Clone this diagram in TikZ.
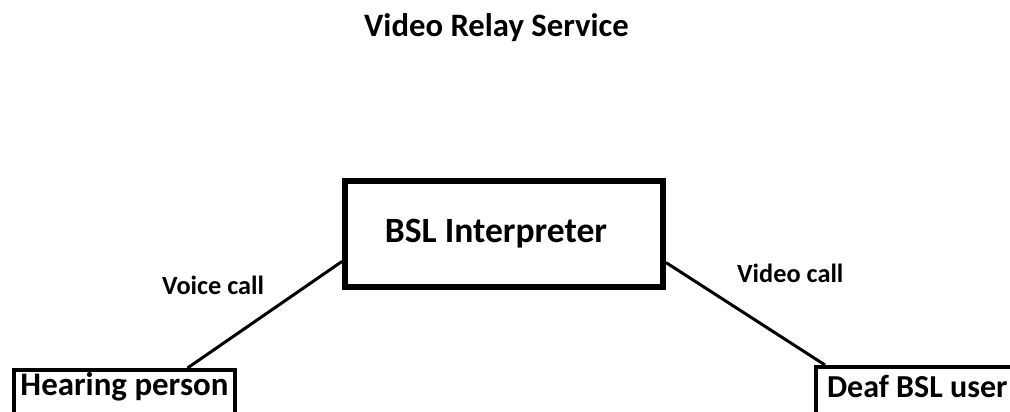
\documentclass[tikz,border=0pt]{standalone}
\usepackage{fontspec}
\setmainfont{Carlito}
\usetikzlibrary{calc}
\tikzset{
  boxthin/.style={draw=black, line width=4pt, inner sep=0pt, font=\fontsize{32}{36}\selectfont\bfseries},
  boxthick/.style={draw=black, line width=6pt, inner sep=0pt, font=\fontsize{35.6}{40}\selectfont\bfseries},
  link/.style={draw=black, line width=3pt},
  linklabel/.style={inner sep=0pt, anchor=base west, font=\fontsize{26.3}{29}\selectfont\bfseries},
  heading/.style={inner sep=0pt, anchor=base, font=\fontsize{32.7}{36}\selectfont\bfseries}
}
\begin{document}
\begin{tikzpicture}[x=1pt,y=-1pt]
  \useasboundingbox (0,0) rectangle (1010,412);
  \clip (0,0) rectangle (1010,412);

  % heading
  \node[heading] (title) at (496.5,37) {Video Relay Service};

  % interpreter in the middle
  \node[boxthick, anchor=base, minimum width=318pt,
        text height=61pt, text depth=45pt] (bsl) at (504,242)
        {BSL Interpreter\hspace*{16pt}};

  % the two callers, cut off by the page edge
  \node[boxthin, font=\fontsize{32.9}{37}\selectfont\bfseries,
        anchor=base, minimum width=221pt,
        text height=25pt, text depth=45pt] (hear) at (124.5,395)
        {Hearing person};
  \node[boxthin, anchor=base west, inner xsep=11pt,
        text height=30pt, text depth=45pt] (deaf) at (814,397)
        {Deaf BSL user\hspace*{60pt}};

  % connections
  \draw[link] ($(hear.north west)!0.78!(hear.north east)$)
           -- ($(bsl.north west)!0.745!(bsl.south west)$);
  \draw[link] ($(bsl.north east)!0.755!(bsl.south east)$)
           -- ($(deaf.north west)+(11,0)$);

  % connection labels
  \node[linklabel] (voice) at (162,294) {Voice call};
  \node[linklabel] (video) at (737,282) {Video call};
\end{tikzpicture}
\end{document}
